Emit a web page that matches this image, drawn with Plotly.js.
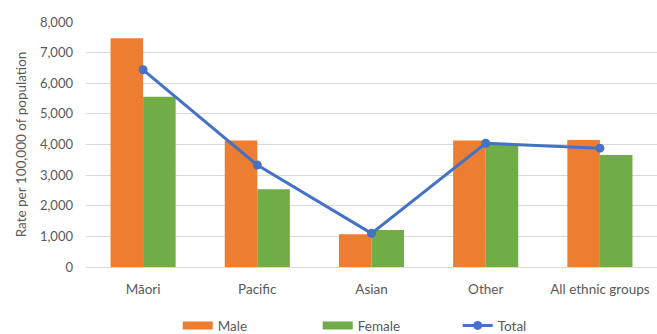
<!DOCTYPE html>
<html>
<head>
<meta charset="utf-8">
<script src="https://cdn.plot.ly/plotly-3.0.1.min.js"></script>
<style>
  html, body { margin: 0; padding: 0; background: #ffffff; }
  #chart { width: 657px; height: 334px; }
</style>
</head>
<body>
<div id="chart"></div>
<script>
// Ethnic groups along the x axis
const categories = ['Māori', 'Pacific', 'Asian', 'Other', 'All ethnic groups'];
// Rates per 100,000 of population
const maleRates   = [7470, 4130, 1070, 4130, 4150];
const femaleRates = [5560, 2540, 1210, 3990, 3660];
const totalRates  = [6440, 3330, 1100, 4040, 3880];
// Axis ticks
const yTickValues = [0, 1000, 2000, 3000, 4000, 5000, 6000, 7000, 8000];

const ORANGE = '#ED7D31';
const GREEN = '#70AD47';
const BLUE = '#4472C4';
const TEXT = '#595959';
const FONT = 'Lato, "Open Sans", sans-serif';

const traces = [
  {
    type: 'bar', name: 'Male', x: categories, y: maleRates,
    marker: { color: ORANGE }, showlegend: false
  },
  {
    type: 'bar', name: 'Female', x: categories, y: femaleRates,
    marker: { color: GREEN }, showlegend: false
  },
  {
    type: 'scatter', mode: 'lines+markers', name: 'Total', x: categories, y: totalRates,
    line: { color: BLUE, width: 3 }, marker: { color: BLUE, size: 9 },
    legend: 'legend3'
  },
  // Wide swatches for the bar series in the legend
  {
    type: 'scatter', mode: 'lines', name: 'Male', x: [null], y: [null],
    line: { color: ORANGE, width: 8 }, legend: 'legend', hoverinfo: 'skip'
  },
  {
    type: 'scatter', mode: 'lines', name: 'Female', x: [null], y: [null],
    line: { color: GREEN, width: 8 }, legend: 'legend2', hoverinfo: 'skip'
  }
];

const legendBase = {
  orientation: 'h', xref: 'container', yref: 'container',
  yanchor: 'middle', y: 0.025, bgcolor: 'rgba(0,0,0,0)',
  font: { family: FONT, size: 13.5, color: TEXT }
};

const layout = {
  width: 657, height: 334,
  margin: { l: 86, r: 0, t: 22, b: 67 },
  paper_bgcolor: '#ffffff', plot_bgcolor: '#ffffff',
  font: { family: FONT, size: 13, color: TEXT },
  barmode: 'group', bargap: 0.43, bargroupgap: 0,
  xaxis: {
    type: 'category', showgrid: false, zeroline: false, showline: false,
    ticks: '', tickfont: { family: FONT, size: 13.5, color: TEXT }, ticklabelstandoff: 12
  },
  yaxis: {
    range: [0, 8000], tickvals: yTickValues, tickformat: ',d',
    showgrid: true, gridcolor: '#d9d9d9', gridwidth: 1,
    zeroline: true, zerolinecolor: '#d9d9d9', zerolinewidth: 1,
    showline: false, ticks: '', ticklabelstandoff: 12,
    tickfont: { family: FONT, size: 13, color: TEXT },
    title: { text: 'Rate per 100,000 of population', font: { family: FONT, size: 13.5, color: TEXT }, standoff: 10 }
  },
  showlegend: true,
  legend: Object.assign({}, legendBase, { x: 181 / 657 - 0.005 }),
  legend2: Object.assign({}, legendBase, { x: 321 / 657 - 0.005 }),
  legend3: Object.assign({}, legendBase, { x: 461 / 657 - 0.005 })
};

Plotly.newPlot('chart', traces, layout, { displayModeBar: false, staticPlot: true });
</script>
</body>
</html>
